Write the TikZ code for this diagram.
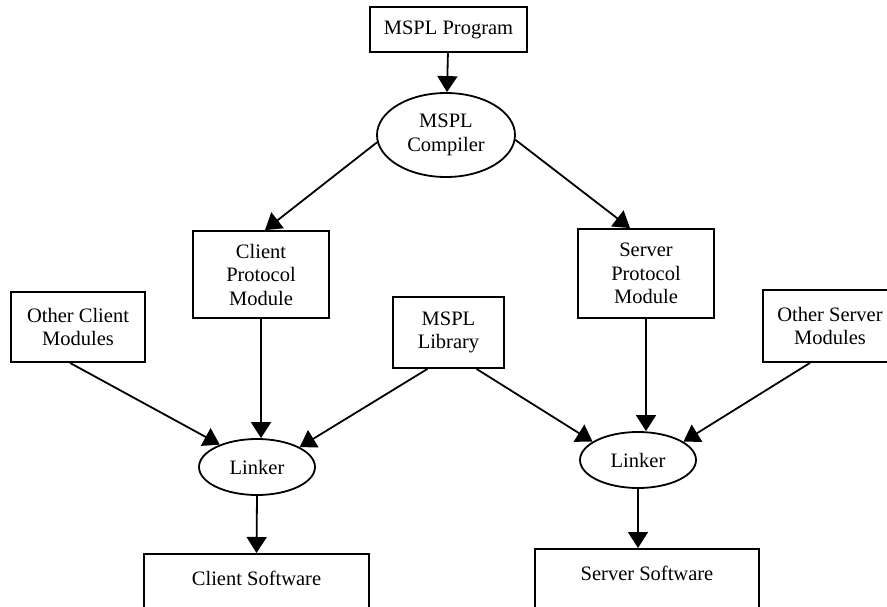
\documentclass[tikz,border=0pt]{standalone}
\usepackage{fontspec}
\setmainfont{Liberation Serif}
\usetikzlibrary{shapes.geometric,arrows.meta,calc}
\begin{document}
\begin{tikzpicture}[x=1pt,y=-1pt,line width=1.8pt,
  every node/.style={font=\fontsize{20.5}{23.5}\selectfont, inner sep=0pt},
  box/.style={draw, rectangle, align=center},
  oval/.style={draw, ellipse, align=center},
  link/.style={-{Triangle[length=16pt,width=20pt]}}
]
\useasboundingbox (0,0) rectangle (887,606);
\clip (0,0) rectangle (887,606);

% compiler stage
\node[box, minimum width=157pt, minimum height=45pt] (prog) at (448.5,29.5) {MSPL Program};
\node[oval, minimum width=138pt, minimum height=84pt] (comp) at (446,135) {MSPL\\Compiler};

% generated modules and inputs to the linkers
\node[box, minimum width=136pt, minimum height=87pt] (cpm) at (261,274.5) {Client\\Protocol\\Module};
\node[box, minimum width=136pt, minimum height=89pt] (spm) at (646,273.5) {Server\\Protocol\\Module};
\node[box, minimum width=134pt, minimum height=70pt] (ocm) at (78,327) {Other Client\\Modules};
\node[box, minimum width=111pt, minimum height=71pt] (lib) at (448.5,332.5) {MSPL\\Library};
\node[box, minimum width=134pt, minimum height=72pt] (osm) at (830,326) {Other Server\\Modules};

% linkers
\node[oval, minimum width=116pt, minimum height=56pt] (lk1) at (257,467) {Linker};
\node[oval, minimum width=116pt, minimum height=56pt] (lk2) at (638,460) {Linker};

% outputs (run off the bottom edge)
\node[box, anchor=north, minimum width=225pt, text height=32pt, text depth=80pt] (csw) at (256.5,553) {Client Software};
\node[box, anchor=north, minimum width=224pt, text height=32pt, text depth=80pt] (ssw) at (647,548) {Server Software};

% connectors
\draw[link] (prog) -- (comp);
\draw[link] (comp.186) -- ($(cpm.north)+(4,0)$);
\draw[link] (comp.-4) -- ($(spm.north)+(-16,0)$);
\draw[link] (cpm.south) -- (cpm.south |- lk1.north);
\draw[link] ($(ocm.south)+(-8,0)$) -- (lk1.149);
\draw[link] ($(lib.south)+(-21,0)$) -- (lk1.25);
\draw[link] ($(lib.south)+(28,0)$) -- (lk2.158);
\draw[link] (spm.south) -- (spm.south |- lk2.north);
\draw[link] ($(osm.south)+(-20,0)$) -- (lk2.22);
\draw[link] (lk1.south) -- (csw.north);
\draw[link] (lk2.south) -- (lk2.south |- ssw.north);
\end{tikzpicture}
\end{document}
